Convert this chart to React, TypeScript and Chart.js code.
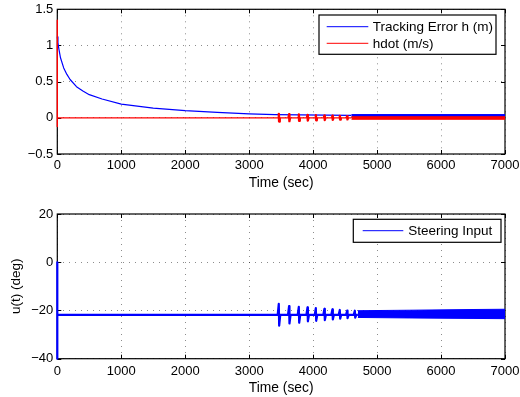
import React, { useEffect, useRef } from 'react';
import { Chart, registerables } from 'chart.js';

Chart.register(...registerables);

const FONT = "'Liberation Sans', Arial, Helvetica, sans-serif";

// ---------- axes ----------
const xTicks = [0, 1000, 2000, 3000, 4000, 5000, 6000, 7000];
const topYTicks = [-0.5, 0, 0.5, 1, 1.5];
const bottomYTicks = [-40, -20, 0, 20];
const xTitle = 'Time (sec)';
const bottomYTitle = 'u(t) (deg)';

// ---------- top plot: tracking error h (m) ----------
const errLabel = 'Tracking Error h (m)';
const errTime = [0, 10, 25, 50, 100, 150, 200, 300, 400, 500, 700, 1000, 1500, 2000, 2500, 3000, 3400, 4600];
const errValue = [1.12, 1.04, 0.95, 0.83, 0.69, 0.6, 0.53, 0.43, 0.37, 0.32, 0.26, 0.19, 0.135, 0.1, 0.075, 0.055, 0.045, 0.035];
const errBandTime = [4600, 7000];
const errBandHigh = [0.045, 0.045];
const errBandLow = [0.012, 0.012];

// ---------- top plot: hdot (m/s) ----------
const hdotLabel = 'hdot (m/s)';
const hdotTime = [0, 0, 0, 4600];
const hdotValue = [1.35, -0.12, 0, 0];
const spikeTime = [3466, 3627, 3779, 3915, 4045, 4180, 4305, 4420, 4535];
const hdotSpikeHigh = [0.055, 0.05, 0.045, 0.04, 0.036, 0.032, 0.028, 0.025, 0.022];
const hdotSpikeLow = [-0.05, -0.046, -0.042, -0.038, -0.034, -0.03, -0.027, -0.024, -0.022];
const hdotBandTime = [4600, 7000];
const hdotBandHigh = [0.015, 0.015];
const hdotBandLow = [-0.02, -0.02];

// ---------- bottom plot: steering input ----------
const steerLabel = 'Steering Input';
const steerStartTime = [0, 0, 0];
const steerStartValue = [0, -40, -21.8];
const steerBase = -21.8;
const burstTime = [3466, 3627, 3779, 3915, 4045, 4180, 4305, 4420, 4535, 4655];
const steerBurstHigh = [-17.3, -18.2, -18.5, -18.7, -19.0, -19.3, -19.5, -19.8, -20.1, -20.1];
const steerBurstLow = [-26.3, -25.4, -25.1, -24.5, -24.3, -24.0, -23.7, -23.4, -23.2, -23.0];
const steerBandTime = [4700, 5500, 6500, 7000];
const steerBandHigh = [-20.1, -19.9, -19.6, -19.5];
const steerBandLow = [-22.9, -23.1, -23.3, -23.4];

const BLUE = '#0000ff';
const RED = '#ff0000';

type P = { x: number; y: number | null };
const zip = (xs: number[], ys: number[]): P[] => xs.map((x, i) => ({ x, y: ys[i] }));

function burstSeries(startT: number[], startV: number[], base: number, times: number[], hi: number[], lo: number[], endT: number): P[] {
  const pts: P[] = zip(startT, startV);
  times.forEach((t, i) => {
    pts.push({ x: t - 20, y: base });
    pts.push({ x: t - 3, y: hi[i] });
    pts.push({ x: t + 3, y: lo[i] });
    pts.push({ x: t + 20, y: base });
  });
  pts.push({ x: endT, y: base });
  return pts;
}

// separate short spikes (gaps between them)
function spikeSeries(base: number, times: number[], hi: number[], lo: number[]): P[] {
  const pts: P[] = [];
  times.forEach((t, i) => {
    pts.push({ x: t - 12, y: base });
    pts.push({ x: t - 2, y: hi[i] });
    pts.push({ x: t + 2, y: lo[i] });
    pts.push({ x: t + 12, y: base });
    pts.push({ x: t + 13, y: null });
  });
  return pts;
}

const fmt = (v: number) => String(v).replace('-', '\u2212');

const matlabPlugin = {
  id: 'matlab',
  beforeDatasetsDraw(chart: any) {
    const { ctx, chartArea: ca } = chart;
    ctx.save();
    ctx.strokeStyle = '#000';
    ctx.lineWidth = 1.2;
    ctx.strokeRect(ca.left, ca.top, ca.right - ca.left, ca.bottom - ca.top);
    const tl = 4;
    ctx.lineWidth = 1;
    ctx.beginPath();
    const xs = chart.scales.x;
    const ys = chart.scales.y;
    xs.ticks.forEach((t: any) => {
      const px = Math.round(xs.getPixelForValue(t.value)) + 0.5;
      ctx.moveTo(px, ca.bottom); ctx.lineTo(px, ca.bottom - tl);
      ctx.moveTo(px, ca.top); ctx.lineTo(px, ca.top + tl);
    });
    ys.ticks.forEach((t: any) => {
      const py = Math.round(ys.getPixelForValue(t.value)) + 0.5;
      ctx.moveTo(ca.left, py); ctx.lineTo(ca.left + tl, py);
      ctx.moveTo(ca.right, py); ctx.lineTo(ca.right - tl, py);
    });
    ctx.stroke();
    ctx.restore();
  },
  afterDatasetsDraw(chart: any, _a: any, opts: any) {
    const { ctx, chartArea: ca } = chart;
    const L = opts.legend;
    if (!L) return;
    const left = ca.right - L.rightInset - L.width;
    const top = ca.top + L.topInset;
    ctx.save();
    ctx.fillStyle = '#fff';
    ctx.fillRect(left, top, L.width, L.height);
    ctx.strokeStyle = '#000';
    ctx.lineWidth = 1.2;
    ctx.strokeRect(left, top, L.width, L.height);
    ctx.font = `13.5px ${FONT}`;
    ctx.textBaseline = 'middle';
    ctx.textAlign = 'left';
    L.items.forEach((it: any, i: number) => {
      const y = top + L.firstRow + i * L.rowGap;
      ctx.strokeStyle = it.color;
      ctx.lineWidth = 1;
      ctx.beginPath();
      ctx.moveTo(left + L.padLeft, y);
      ctx.lineTo(left + L.padLeft + L.lineLen, y);
      ctx.stroke();
      ctx.fillStyle = '#000';
      ctx.fillText(it.label, left + L.textX, y + 0.5);
    });
    ctx.restore();
  },
};

function makeScales(yTicks: number[], yMin: number, yMax: number, xHeight: number, xTickPad: number, xTitlePadBottom: number, yTitle?: string) {
  const grid = { color: 'rgba(0,0,0,0.45)', drawTicks: false, lineWidth: 1 };
  const border = { display: false, dash: [1, 5] };
  return {
    x: {
      type: 'linear',
      min: 0,
      max: 7000,
      afterBuildTicks: (s: any) => { s.ticks = xTicks.map((v) => ({ value: v })); },
      afterFit: (s: any) => { s.height = xHeight; s.paddingLeft = 0; s.paddingRight = 0; },
      grid,
      border,
      ticks: { padding: xTickPad, color: '#000', font: { family: FONT, size: 13 }, maxRotation: 0, autoSkip: false, callback: (v: any) => fmt(v) },
      title: { display: true, text: xTitle, color: '#000', font: { family: FONT, size: 13.8 }, padding: { top: 0, bottom: xTitlePadBottom } },
    },
    y: {
      type: 'linear',
      min: yMin,
      max: yMax,
      afterBuildTicks: (s: any) => { s.ticks = yTicks.map((v) => ({ value: v })); },
      afterFit: (s: any) => { s.width = 57.3; s.paddingTop = 0; s.paddingBottom = 0; },
      grid,
      border,
      ticks: { padding: 4, color: '#000', font: { family: FONT, size: 13 }, autoSkip: false, callback: (v: any) => fmt(v) },
      title: yTitle
        ? { display: true, text: yTitle, color: '#000', font: { family: FONT, size: 13.5 }, padding: { top: 8, bottom: 0 } }
        : { display: false },
    },
  };
}

function lineDs(data: P[], color: string, order: number, extra: any = {}) {
  return {
    data,
    borderColor: color,
    backgroundColor: color,
    borderWidth: 1,
    borderJoinStyle: 'round',
    pointRadius: 0,
    tension: 0,
    fill: false,
    spanGaps: false,
    order,
    ...extra,
  };
}

export default function App() {
  const topRef = useRef<HTMLCanvasElement>(null);
  const botRef = useRef<HTMLCanvasElement>(null);

  useEffect(() => {
    const top = new Chart(topRef.current as HTMLCanvasElement, {
      type: 'line',
      data: {
        datasets: [
          lineDs(zip(errTime, errValue), BLUE, 1, { borderWidth: 1.2, clip: 2 }),
          lineDs(zip(errBandTime, errBandHigh), BLUE, 1, { fill: '+1' }),
          lineDs(zip(errBandTime, errBandLow), BLUE, 1),
          lineDs(zip(hdotTime, hdotValue), RED, 0, { borderWidth: 1.4, clip: 2 }),
          lineDs(spikeSeries(0, spikeTime, hdotSpikeHigh, hdotSpikeLow), RED, 0, { borderWidth: 2.4 }),
          lineDs(zip(hdotBandTime, hdotBandHigh), RED, 0, { fill: '+1' }),
          lineDs(zip(hdotBandTime, hdotBandLow), RED, 0),
        ] as any,
      },
      options: {
        animation: false,
        responsive: false,
        devicePixelRatio: 1,
        layout: { padding: { left: 0, right: 15, top: 9.3, bottom: 0 } },
        plugins: {
          legend: { display: false },
          tooltip: { enabled: false },
          matlab: {
            legend: {
              rightInset: 9, topInset: 5.7, width: 177, height: 39.3,
              padLeft: 7.7, lineLen: 41.6, textX: 53.7, firstRow: 11.7, rowGap: 16.6,
              items: [{ label: errLabel, color: BLUE }, { label: hdotLabel, color: RED }],
            },
          },
        } as any,
        scales: makeScales(topYTicks, -0.5, 1.5, 46, 3.5, 8.2) as any,
      },
      plugins: [matlabPlugin],
    });

    const bot = new Chart(botRef.current as HTMLCanvasElement, {
      type: 'line',
      data: {
        datasets: [
          lineDs(burstSeries(steerStartTime, steerStartValue, steerBase, burstTime, steerBurstHigh, steerBurstLow, steerBandTime[0]), BLUE, 0, { borderWidth: 2.2, clip: 2 }),
          lineDs(zip(steerBandTime, steerBandHigh), BLUE, 0, { fill: '+1' }),
          lineDs(zip(steerBandTime, steerBandLow), BLUE, 0),
        ] as any,
      },
      options: {
        animation: false,
        responsive: false,
        devicePixelRatio: 1,
        layout: { padding: { left: 0, right: 15, top: 14, bottom: 0 } },
        plugins: {
          legend: { display: false },
          tooltip: { enabled: false },
          matlab: {
            legend: {
              rightInset: 4, topInset: 5.3, width: 147.7, height: 23,
              padLeft: 9.4, lineLen: 40.6, textX: 55, firstRow: 11.4, rowGap: 16.6,
              items: [{ label: steerLabel, color: BLUE }],
            },
          },
        } as any,
        scales: makeScales(bottomYTicks, -40, 20, 38.3, 5.2, 1.0, bottomYTitle) as any,
      },
      plugins: [matlabPlugin],
    });

    return () => {
      top.destroy();
      bot.destroy();
    };
  }, []);

  return (
    <div style={{ position: 'absolute', left: 0, top: 0, width: 520, height: 397, background: '#fff' }}>
      <canvas ref={topRef} width={520} height={200} style={{ display: 'block', width: 520, height: 200 }} />
      <canvas ref={botRef} width={520} height={197} style={{ display: 'block', width: 520, height: 197 }} />
    </div>
  );
}
